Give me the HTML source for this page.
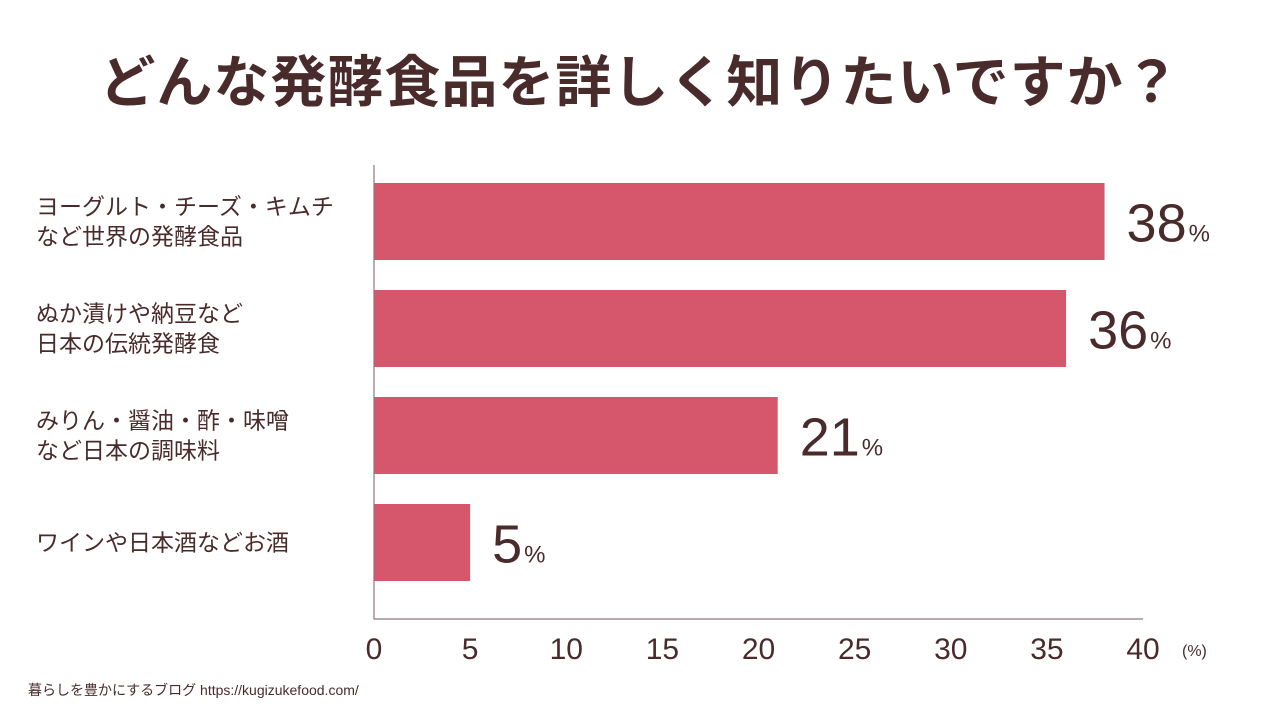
<!DOCTYPE html>
<html><head><meta charset="utf-8"><style>
body{margin:0;width:1280px;height:720px;background:#fff;overflow:hidden;font-family:"Liberation Sans","Noto Sans CJK JP",sans-serif;color:#4a2b2b}
#title{position:absolute;left:0;top:38px;width:1280px;text-align:center;font-size:56px;font-weight:bold;letter-spacing:1px;color:#4a2b2b}
#footer{position:absolute;left:28px;top:680px;font-size:14px;color:#4a2b2b}
svg{position:absolute;left:0;top:0}
</style></head><body>
<div id="title">どんな発酵食品を詳しく知りたいですか？</div>
<svg id="chart" width="1280" height="720"></svg>
<div id="footer">暮らしを豊かにするブログ https://kugizukefood.com/</div>
<script>
const categories=[["ヨーグルト・チーズ・キムチ","など世界の発酵食品"],["ぬか漬けや納豆など","日本の伝統発酵食"],["みりん・醤油・酢・味噌","など日本の調味料"],["ワインや日本酒などお酒"]];
const values=[38,36,21,5];
const ticks=[0,5,10,15,20,25,30,35,40];
const NS="http://www.w3.org/2000/svg";
const svg=document.getElementById('chart');
const x0=374,x1=1143,xmax=40;
const xs=v=>x0+(x1-x0)*v/xmax;
const top0=183,step=107,bh=77;
function mk(t,a){const e=document.createElementNS(NS,t);for(const k in a)e.setAttribute(k,a[k]);svg.appendChild(e);return e;}
values.forEach((v,i)=>{
 const y=top0+i*step;
 const r=mk('rect',{x:x0,y:y,width:xs(v)-x0,height:bh,fill:'#d6566b'});
 
 
 const t=mk('text',{x:xs(v)+22,y:y+bh/2+20,fill:'#4a2b2b','font-size':54,'font-family':'Liberation Sans, sans-serif'});
 
 
 t.innerHTML=v+'<tspan font-size="24" dx="2">%</tspan>';
 const lines=categories[i];
 const lt=mk('text',{x:36,fill:'#4a2b2b','font-size':23,'font-family':'Liberation Sans, Noto Sans CJK JP, sans-serif'});
 
 
 lines.forEach((s,j)=>{const ts=document.createElementNS(NS,'tspan');ts.setAttribute('x',36);ts.setAttribute('y',y+bh/2+8+(j-(lines.length-1)/2)*30);ts.textContent=s;lt.appendChild(ts);});
});
const ax=mk('path',{d:`M${x0} 165V619H${x1}`,stroke:'#8a7a7a','stroke-width':1.2,fill:'none'});


ticks.forEach(v=>{
 const t=mk('text',{x:xs(v),y:659,'text-anchor':'middle',fill:'#4a2b2b','font-size':30,'font-weight':'300','font-family':'Liberation Sans, sans-serif'});
 
 
 t.textContent=v;
});
const u=mk('text',{x:1182,y:656,fill:'#4a2b2b','font-size':16,'font-family':'Liberation Sans, sans-serif'});


u.textContent='(%)';
</script>
</body></html>
